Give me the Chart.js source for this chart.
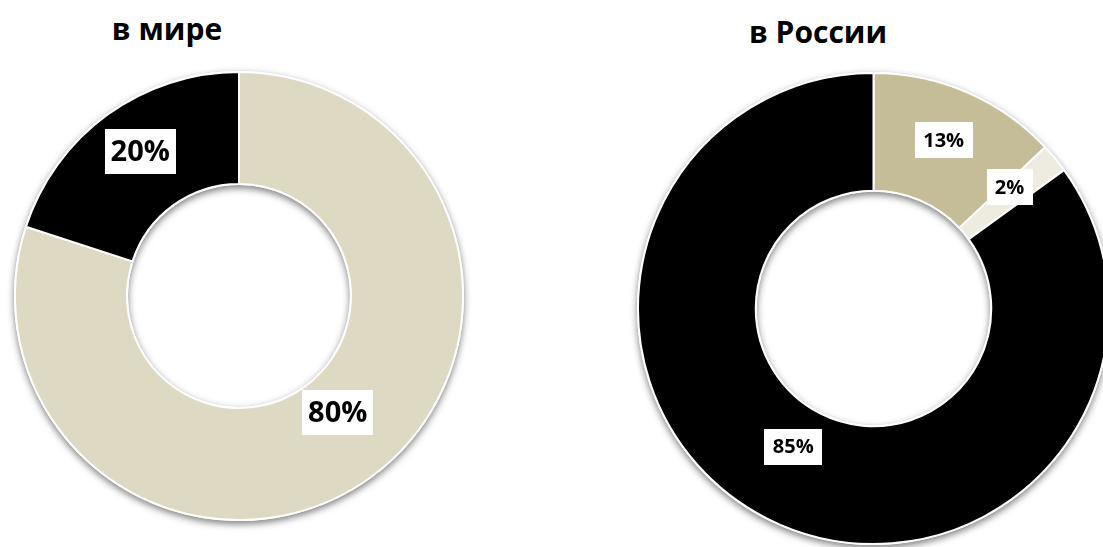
<!DOCTYPE html>
<html lang="ru">
<head>
<meta charset="utf-8">
<title>в мире / в России</title>
<script src="https://cdn.jsdelivr.net/npm/chart.js@4.4.1/dist/chart.umd.min.js"></script>
<style>
  html, body { margin: 0; padding: 0; background: #ffffff; width: 1103px; height: 547px; overflow: hidden; }
  .panel { position: absolute; top: 0; height: 547px; }
  #worldBox { left: 0; width: 480px; }
  #russiaBox { left: 620px; width: 500px; }
  .title {
    position: absolute; transform: translateX(-50%); white-space: nowrap;
    font-family: "Open Sans", "DejaVu Sans", sans-serif; font-weight: 700;
    font-size: 30px; line-height: 30px; color: #000;
  }
</style>
</head>
<body>
<div class="title" style="left:167px; top:14px;">в мире</div>
<div class="title" style="left:818px; top:17px;">в России</div>
<div class="panel" id="worldBox"><canvas id="worldChart"></canvas></div>
<div class="panel" id="russiaBox"><canvas id="russiaChart"></canvas></div>

<script>
// Shares, percent
const worldCategories = ['Остальные', 'Доля'];
const worldValues = [80, 20];
const worldColors = ['#DDD9C3', '#000000'];

const russiaCategories = ['Доля', 'Прочее', 'Остальные'];
const russiaValues = [13, 2, 85];
const russiaColors = ['#C4BD97', '#EEECE1', '#000000'];

// Soft drop shadow under the whole ring, drawn before the slices
const ringShadow = {
  id: 'ringShadow',
  beforeDatasetsDraw(chart, args, opts) {
    const arc = chart.getDatasetMeta(0).data[0];
    if (!arc) return;
    const { x, y, innerRadius, outerRadius } =
      arc.getProps(['x', 'y', 'innerRadius', 'outerRadius'], true);
    const ctx = chart.ctx;
    ctx.save();
    ctx.shadowColor = opts.color;
    ctx.shadowBlur = opts.blur;
    ctx.shadowOffsetX = 0;
    ctx.shadowOffsetY = opts.offsetY;
    ctx.beginPath();
    ctx.arc(x, y, outerRadius + 1, 0, Math.PI * 2);
    ctx.moveTo(x + innerRadius - 1, y);
    ctx.arc(x, y, innerRadius - 1, 0, Math.PI * 2, true);
    ctx.fillStyle = '#ffffff';
    ctx.fill('evenodd');
    ctx.restore();
  }
};

// Percent labels in white boxes, placed along each slice's mid angle
const percentLabels = {
  id: 'percentLabels',
  afterDatasetsDraw(chart, args, opts) {
    const ctx = chart.ctx;
    const values = chart.data.datasets[0].data;
    const total = values.reduce((a, b) => a + b, 0);
    chart.getDatasetMeta(0).data.forEach((arc, i) => {
      const { x, y, startAngle, endAngle, innerRadius, outerRadius } =
        arc.getProps(['x', 'y', 'startAngle', 'endAngle', 'innerRadius', 'outerRadius'], true);
      const mid = (startAngle + endAngle) / 2;
      const rho = (innerRadius + outerRadius) / 2;
      const cx = x + Math.cos(mid) * rho;
      const cy = y + Math.sin(mid) * (rho + opts.radialY) + opts.shiftY;
      const text = Math.round(values[i] / total * 100) + '%';
      ctx.save();
      ctx.font = `700 ${opts.size}px "Open Sans", "DejaVu Sans", sans-serif`;
      const w = Math.round(ctx.measureText(text).width + opts.padX * 2);
      const h = opts.boxHeight;
      ctx.fillStyle = '#ffffff';
      ctx.fillRect(Math.round(cx - w / 2), Math.round(cy - h / 2), w, h);
      ctx.fillStyle = '#000000';
      ctx.textAlign = 'center';
      ctx.textBaseline = 'middle';
      ctx.fillText(text, cx, cy + 1);
      ctx.restore();
    });
  }
};

function donut(canvasId, categories, values, colors, padding, labelOpts) {
  return new Chart(document.getElementById(canvasId), {
    type: 'doughnut',
    data: {
      labels: categories,
      datasets: [{
        data: values,
        backgroundColor: colors,
        borderColor: '#ffffff',
        borderWidth: 2,
        hoverOffset: 0
      }]
    },
    options: {
      responsive: true,
      maintainAspectRatio: false,
      animation: false,
      cutout: '50%',
      rotation: 0,
      layout: { padding: padding },
      plugins: {
        legend: { display: false },
        tooltip: { enabled: false },
        ringShadow: { color: 'rgba(0,0,0,0.5)', blur: 7, offsetY: 3 },
        percentLabels: labelOpts
      }
    },
    plugins: [ringShadow, percentLabels]
  });
}

donut('worldChart', worldCategories, worldValues, worldColors,
  { left: 14, top: 71, right: 16, bottom: 26 },
  { size: 29, padX: 6, boxHeight: 45, radialY: -7, shiftY: -14 });

donut('russiaChart', russiaCategories, russiaValues, russiaColors,
  { left: 17, top: 72, right: 10, bottom: 2 },
  { size: 20, padX: 8.5, boxHeight: 36, radialY: -7, shiftY: -13 });
</script>
</body>
</html>
